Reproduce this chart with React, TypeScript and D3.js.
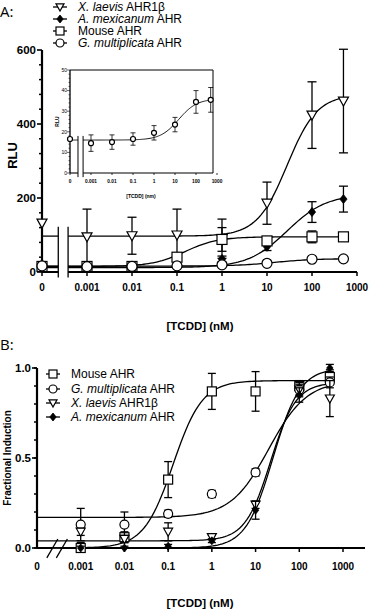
import * as d3 from "d3";

// ---- data ----
const concA = [0, 0.001, 0.01, 0.1, 1, 10, 100, 500];
const laevisA = [132, 95, 98, 100, 90, 186, 424, 462];
const laevisAErr = [0, 75, 50, 70, 53, 57, 90, 140];
const mexA = [10, 12, 12, 20, 35, 68, 162, 197];
const mexAErr = [3, 3, 3, 5, 8, 10, 28, 35];
const mouseA = [15, 15, 15, 40, 88, 84, 95, 95];
const mouseAErr = [4, 4, 4, 8, 32, 8, 16, 8];
const gmA = [16.5, 14.5, 15, 16.5, 19.5, 23.5, 34.5, 35.5];
const gmAErr = [0.5, 4, 3.5, 3, 3.5, 3.5, 5.5, 6];

const concB = [0.001, 0.01, 0.1, 1, 10, 100, 500];
const mouseB = [0.0, 0.06, 0.38, 0.87, 0.87, 0.9, 0.95];
const mouseBErr = [0.03, 0.03, 0.1, 0.1, 0.11, 0.03, 0.04];
const gmB = [0.13, 0.13, 0.19, 0.3, 0.42, 0.88, 0.92];
const gmBErr = [0.09, 0.07, 0.02, 0.02, 0.02, 0.03, 0.03];
const laevisB = [0.09, 0.05, 0.09, 0.06, 0.24, 0.88, 0.83];
const laevisBErr = [0.02, 0.02, 0.05, 0.01, 0.02, 0.04, 0.1];
const mexB = [0.0, 0.0, 0.01, 0.04, 0.21, 0.85, 1.0];
const mexBErr = [0.01, 0.01, 0.01, 0.01, 0.05, 0.04, 0.02];

// fitted curves: [bottom, top, EC50, hill]
const fitLaevisA = [97, 480, 28, 1.3];
const fitMexA = [12, 210, 28, 1.0];
const fitMouseA = [15, 95, 0.15, 1.2];
const fitGmA = [16, 36, 15, 1.0];
const fitMouseB = [0, 0.93, 0.13, 1.3];
const fitGmB = [0.17, 0.93, 20, 1.0];
const fitLaevisB = [0.04, 0.92, 22, 1.5];
const fitMexB = [0, 1.0, 25, 1.4];

const xTickVals = [1e-4, 0.001, 0.01, 0.1, 1, 10, 100, 1000];
const xTickLabels = ["0", "0.001", "0.01", "0.1", "1", "10", "100", "1000"];
const ZERO = 1e-4; // where "0" sits on the log axis

const FONT = "'Liberation Sans', Arial, sans-serif";

const xA = d3.scaleLog().domain([1e-4, 1e3]).range([42, 357]);
const yA = d3.scaleLinear().domain([0, 600]).range([272, 50]);
const xIn = d3.scaleLog().domain([1e-4, 1e3]).range([70, 217]);
const yIn = d3.scaleLinear().domain([0, 50]).range([173, 70]);
const xB = d3.scaleLog().domain([1e-4, 1e3]).range([37, 343]);
const yB = d3.scaleLinear().domain([0, 1]).range([548, 368]);

const breakA = [2.3e-4, 3.8e-4];
const breakIn = [2.4e-4, 4.2e-4];

const logistic = (p: number[], c: number) =>
  p[0] + (p[1] - p[0]) / (1 + Math.pow(p[2] / c, p[3]));

function curvePath(p: number[], x: any, y: any, from: number, to: number) {
  const pts = d3.range(0, 121).map((i) => {
    const c = Math.pow(10, Math.log10(from) + (i / 120) * (Math.log10(to) - Math.log10(from)));
    return [x(c), y(logistic(p, c))] as [number, number];
  });
  return d3.line()(pts) || "";
}

function Marker({ type, x, y, s }: { type: string; x: number; y: number; s: number }) {
  const h = s / 2;
  if (type === "tri")
    return <polygon points={`${x - h},${y - h * 0.8} ${x + h},${y - h * 0.8} ${x},${y + h}`} fill="#fff" stroke="#000" strokeWidth={1.2} />;
  if (type === "sq")
    return <rect x={x - h} y={y - h} width={s} height={s} fill="#fff" stroke="#000" strokeWidth={1.2} />;
  if (type === "circ")
    return <circle cx={x} cy={y} r={h} fill="#fff" stroke="#000" strokeWidth={1.2} />;
  return <polygon points={`${x},${y - h} ${x + h * 0.8},${y} ${x},${y + h} ${x - h * 0.8},${y}`} fill="#000" stroke="#000" strokeWidth={0.8} />;
}

function Series({ conc, vals, errs, x, y, type, s, cap, sw }: any) {
  return (
    <g>
      {conc.map((c: number, i: number) => {
        const cx = x(c === 0 ? ZERO : c);
        const e = errs[i];
        if (!e) return null;
        const y1 = y(vals[i] + e), y2 = y(Math.max(vals[i] - e, y.domain()[0]));
        return (
          <g key={i} stroke="#000" strokeWidth={sw}>
            <line x1={cx} x2={cx} y1={y1} y2={y2} />
            <line x1={cx - cap} x2={cx + cap} y1={y1} y2={y1} />
            {vals[i] - e > y.domain()[0] && <line x1={cx - cap} x2={cx + cap} y1={y2} y2={y2} />}
          </g>
        );
      })}
      {conc.map((c: number, i: number) => (
        <Marker key={"m" + i} type={type} x={x(c === 0 ? ZERO : c)} y={y(vals[i])} s={s} />
      ))}
    </g>
  );
}

function LegendRow({ type, x, y, children }: any) {
  return (
    <g>
      <line x1={x - 7} x2={x + 7} y1={y} y2={y} stroke="#000" strokeWidth={1.3} />
      <Marker type={type} x={x} y={y} s={8} />
      <text x={x + 18} y={y + 4.3} fontSize={12} fontFamily={FONT}>{children}</text>
    </g>
  );
}

export default function App() {
  const seriesA = [
    { p: fitLaevisA, v: laevisA, e: laevisAErr, t: "tri" },
    { p: fitMexA, v: mexA, e: mexAErr, t: "dia" },
    { p: fitMouseA, v: mouseA, e: mouseAErr, t: "sq" },
    { p: fitGmA, v: gmA, e: gmAErr, t: "circ" },
  ];
  const seriesB = [
    { p: fitMouseB, v: mouseB, e: mouseBErr, t: "sq" },
    { p: fitGmB, v: gmB, e: gmBErr, t: "circ" },
    { p: fitLaevisB, v: laevisB, e: laevisBErr, t: "tri" },
    { p: fitMexB, v: mexB, e: mexBErr, t: "dia" },
  ];
  const minorA = d3.range(0, 601, 40).filter((v) => v % 200 !== 0);
  const minorB = d3.range(0, 11).map((v) => v / 10);
  const inMinor = d3.range(0, 51, 2);

  return (
    <svg width={373} height={610} style={{ position: "absolute", left: 0, top: 0, background: "#fff" }}>
      {/* ---------- Panel A ---------- */}
      <text x={0} y={17} fontSize={15} fontFamily="'Open Sans', sans-serif">A:</text>
      <LegendRow type="tri" x={60} y={7}><tspan fontStyle="italic">X. laevis</tspan> AHR1β</LegendRow>
      <LegendRow type="dia" x={60} y={19}><tspan fontStyle="italic">A. mexicanum</tspan> AHR</LegendRow>
      <LegendRow type="sq" x={60} y={31}>Mouse AHR</LegendRow>
      <LegendRow type="circ" x={60} y={43}><tspan fontStyle="italic">G. multiplicata</tspan> AHR</LegendRow>

      {/* y axis */}
      <line x1={xA(ZERO)} x2={xA(ZERO)} y1={yA(0)} y2={yA(600)} stroke="#000" strokeWidth={2.2} />
      {minorA.map((v) => (
        <line key={v} x1={xA(ZERO) - 3} x2={xA(ZERO)} y1={yA(v)} y2={yA(v)} stroke="#000" strokeWidth={1.5} />
      ))}
      {[0, 200, 400, 600].map((v) => (
        <g key={v}>
          <line x1={xA(ZERO) - 5} x2={xA(ZERO)} y1={yA(v)} y2={yA(v)} stroke="#000" strokeWidth={1.6} />
          <text x={xA(ZERO) - 6} y={yA(v) + 4} textAnchor="end" fontSize={11.5} fontWeight="bold" fontFamily={FONT}>{v}</text>
        </g>
      ))}
      <text transform={`translate(17,${yA(315)}) rotate(-90)`} textAnchor="middle" fontSize={13} fontWeight="bold" fontFamily={FONT}>RLU</text>

      {/* x axis */}
      <line x1={xA(ZERO)} x2={xA(breakA[0])} y1={yA(0)} y2={yA(0)} stroke="#000" strokeWidth={2} />
      <line x1={xA(breakA[1])} x2={xA(1000)} y1={yA(0)} y2={yA(0)} stroke="#000" strokeWidth={2} />
      {breakA.map((b) => (
        <line key={b} x1={xA(b)} x2={xA(b)} y1={yA(-15)} y2={yA(122)} stroke="#000" strokeWidth={1.3} />
      ))}
      {xTickVals.map((v, i) => (
        <g key={v}>
          <line x1={xA(v)} x2={xA(v)} y1={yA(0)} y2={yA(0) + 4} stroke="#000" strokeWidth={1.5} />
          <text x={xA(v)} y={yA(0) + 19} textAnchor="middle" fontSize={10} fontWeight="bold" fontFamily={FONT}>{xTickLabels[i]}</text>
        </g>
      ))}
      <text x={200} y={330} textAnchor="middle" fontSize={11.5} fontWeight="bold" fontFamily={FONT}>[TCDD] (nM)</text>

      {/* curves */}
      {seriesA.map((s, i) => (
        <g key={i} fill="none" stroke="#000" strokeWidth={1.3}>
          <path d={curvePath(s.p, xA, yA, ZERO, breakA[0])} />
          <path d={curvePath(s.p, xA, yA, breakA[1], 500)} />
        </g>
      ))}
      {seriesA.map((s, i) => (
        <Series key={i} conc={concA} vals={s.v} errs={s.e} x={xA} y={yA} type={s.t} s={s.t === "dia" ? 9 : 10} cap={4.5} sw={1.3} />
      ))}

      {/* ---------- Inset ---------- */}
      <g>
        <rect x={xIn(ZERO)} y={yIn(50)} width={xIn(1000) - xIn(ZERO) - 4} height={yIn(0) - yIn(50)} fill="#fff" stroke="none" />
        <path d={`M${xIn(ZERO)},${yIn(50)}H${xIn(1000) - 4}V${yIn(0)}`} fill="none" stroke="#000" strokeWidth={1} />
        <line x1={xIn(ZERO)} x2={xIn(ZERO)} y1={yIn(0)} y2={yIn(50)} stroke="#000" strokeWidth={1.3} />
        {inMinor.map((v) => (
          <line key={v} x1={xIn(ZERO) - (v % 10 === 0 ? 3 : 1.5)} x2={xIn(ZERO)} y1={yIn(v)} y2={yIn(v)} stroke="#000" strokeWidth={0.6} />
        ))}
        {[0, 10, 20, 30, 40, 50].map((v) => (
          <text key={v} x={xIn(ZERO) - 3} y={yIn(v) + 1.8} textAnchor="end" fontSize={5} fontFamily={FONT}>{v}</text>
        ))}
        <text transform={`translate(59,${yIn(25)}) rotate(-90)`} textAnchor="middle" fontSize={5} fontWeight="bold" fontFamily={FONT}>RLU</text>
        <line x1={xIn(ZERO)} x2={xIn(breakIn[0])} y1={yIn(0)} y2={yIn(0)} stroke="#000" strokeWidth={1.1} />
        <line x1={xIn(breakIn[1])} x2={xIn(1000) - 4} y1={yIn(0)} y2={yIn(0)} stroke="#000" strokeWidth={1.1} />
        {breakIn.map((b) => (
          <line key={b} x1={xIn(b)} x2={xIn(b)} y1={yIn(-2)} y2={yIn(18)} stroke="#000" strokeWidth={1} />
        ))}
        {xTickVals.map((v, i) => (
          <g key={v}>
            <line x1={xIn(v)} x2={xIn(v)} y1={yIn(0)} y2={yIn(0) + 2} stroke="#000" strokeWidth={0.8} />
            <text x={xIn(v)} y={yIn(0) + 10} textAnchor="middle" fontSize={4.8} fontWeight="bold" fontFamily={FONT}>{xTickLabels[i]}</text>
          </g>
        ))}
        <text x={141} y={198} textAnchor="middle" fontSize={5} fontWeight="bold" fontFamily={FONT}>[TCDD] (nm)</text>
        <path d={curvePath(fitGmA, xIn, yIn, ZERO, breakIn[0])} fill="none" stroke="#000" strokeWidth={0.9} />
        <path d={curvePath(fitGmA, xIn, yIn, breakIn[1], 500)} fill="none" stroke="#000" strokeWidth={0.9} />
        <Series conc={concA} vals={gmA} errs={gmAErr} x={xIn} y={yIn} type="circ" s={5} cap={2.5} sw={0.8} />
      </g>

      {/* ---------- Panel B ---------- */}
      <text x={0} y={350} fontSize={15} fontFamily="'Open Sans', sans-serif">B:</text>
      <LegendRow type="sq" x={53} y={374}>Mouse AHR</LegendRow>
      <LegendRow type="circ" x={53} y={389}><tspan fontStyle="italic">G. multiplicata</tspan> AHR</LegendRow>
      <LegendRow type="tri" x={53} y={403}><tspan fontStyle="italic">X. laevis</tspan> AHR1β</LegendRow>
      <LegendRow type="dia" x={53} y={417}><tspan fontStyle="italic">A. mexicanum</tspan> AHR</LegendRow>

      <line x1={xB(ZERO)} x2={xB(ZERO)} y1={yB(0)} y2={yB(1)} stroke="#000" strokeWidth={2.2} />
      {minorB.map((v) => (
        <line key={v} x1={xB(ZERO) - 3} x2={xB(ZERO)} y1={yB(v)} y2={yB(v)} stroke="#000" strokeWidth={1.5} />
      ))}
      {[0, 0.5, 1].map((v) => (
        <g key={v}>
          <line x1={xB(ZERO) - 5} x2={xB(ZERO)} y1={yB(v)} y2={yB(v)} stroke="#000" strokeWidth={1.6} />
          <text x={xB(ZERO) - 6} y={yB(v) + 4} textAnchor="end" fontSize={11.5} fontWeight="bold" fontFamily={FONT}>{v.toFixed(1)}</text>
        </g>
      ))}
      <text transform={`translate(11,${yB(0.5)}) rotate(-90)`} textAnchor="middle" fontSize={10} fontWeight="bold" fontFamily={FONT}>Fractional Induction</text>

      <line x1={xB(ZERO)} x2={xB(breakA[0])} y1={yB(0)} y2={yB(0)} stroke="#000" strokeWidth={2} />
      <line x1={xB(breakA[1]) - 2} x2={xB(1000) + 22} y1={yB(0)} y2={yB(0)} stroke="#000" strokeWidth={2} />
      {breakA.map((b) => (
        <line key={b} x1={xB(b) - 6} x2={xB(b) + 5} y1={yB(-0.055)} y2={yB(0.05)} stroke="#000" strokeWidth={1.3} />
      ))}
      {xTickVals.map((v, i) => (
        <g key={v}>
          {i > 0 && <line x1={xB(v)} x2={xB(v)} y1={yB(0)} y2={yB(0) + 4} stroke="#000" strokeWidth={1.5} />}
          <text x={xB(v)} y={yB(0) + 22} textAnchor="middle" fontSize={10} fontWeight="bold" fontFamily={FONT}>{xTickLabels[i]}</text>
        </g>
      ))}
      <text x={200} y={607} textAnchor="middle" fontSize={11.5} fontWeight="bold" fontFamily={FONT}>[TCDD] (nM)</text>

      {seriesB.map((s, i) => (
        <path key={i} d={curvePath(s.p, xB, yB, ZERO, 500)} fill="none" stroke="#000" strokeWidth={1.3} />
      ))}
      {seriesB.map((s, i) => (
        <Series key={i} conc={concB} vals={s.v} errs={s.e} x={xB} y={yB} type={s.t} s={s.t === "dia" ? 8 : 9} cap={4} sw={1.3} />
      ))}
    </svg>
  );
}
